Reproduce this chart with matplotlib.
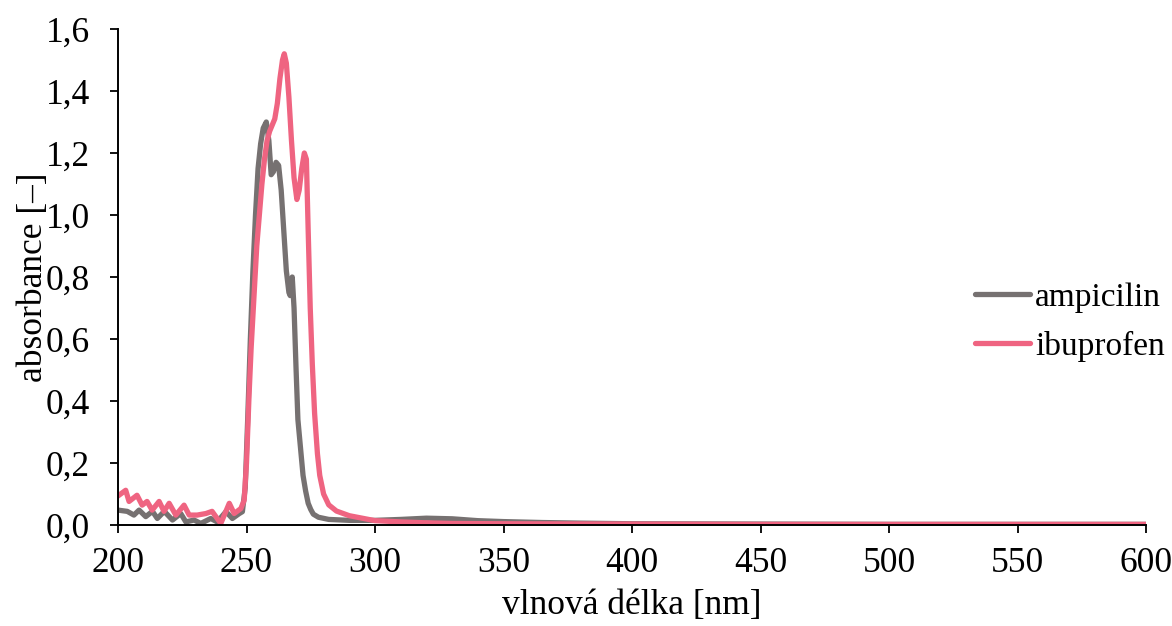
import matplotlib.pyplot as plt
import numpy as np

# Data (wavelength nm, absorbance)
amp_x = [200, 203.6, 206.2, 208.2, 210.8, 213.4, 215.3, 218, 221.2, 224.4, 226.4,
         229.6, 232.2, 236.1, 238.6, 242, 244.5, 247.2, 248.4, 249.5, 250.5, 251.5,
         252.5, 253.5, 254.5, 255.5, 256.5, 257.7, 258.7, 259.6, 260.5, 261.5, 262.5,
         263.5, 264.5, 265.5, 266.5, 267, 267.8, 268.5, 269.3, 270, 271, 272, 273,
         274, 275, 276, 278, 282, 290, 300, 310, 320, 330, 340, 350, 365, 380, 400,
         450, 500, 550, 600]
amp_y = [0.048, 0.044, 0.032, 0.048, 0.027, 0.044, 0.021, 0.044, 0.016, 0.037, 0.010,
         0.016, 0.005, 0.021, 0.010, 0.043, 0.021, 0.037, 0.043, 0.12, 0.35, 0.60,
         0.82, 1.00, 1.15, 1.23, 1.28, 1.30, 1.24, 1.13, 1.14, 1.17, 1.16,
         1.08, 0.95, 0.82, 0.75, 0.74, 0.80, 0.70, 0.50, 0.34, 0.25, 0.16, 0.11,
         0.07, 0.05, 0.035, 0.025, 0.018, 0.015, 0.015, 0.018, 0.022, 0.020, 0.014,
         0.011, 0.008, 0.006, 0.004, 0.003, 0.002, 0.002, 0.002]

ibu_x = [199.7, 203, 204.3, 207.4, 209.4, 211.3, 213.3, 216, 217.9, 219.9, 222.5,
         225.7, 227.7, 230.8, 234.2, 236.6, 240, 243.3, 245.2, 247.8, 249.1, 250,
         251, 251.8, 253, 254, 255, 256, 257, 258, 259, 260, 261, 262, 263, 264,
         264.7, 265.5, 266.5, 267.5, 268.5, 269.6, 270.5, 271.5, 272.5, 273.3, 274,
         274.8, 275.6, 276.5, 277.6, 278.5, 280, 282, 285, 290, 295, 300, 310, 320,
         330, 350, 400, 450, 500, 600]
ibu_y = [0.092, 0.112, 0.076, 0.096, 0.064, 0.076, 0.048, 0.076, 0.044, 0.070, 0.032,
         0.064, 0.032, 0.032, 0.037, 0.044, 0.005, 0.070, 0.037, 0.053, 0.08, 0.20,
         0.42, 0.57, 0.75, 0.90, 1.00, 1.10, 1.18, 1.24, 1.27, 1.29, 1.31, 1.36, 1.44, 1.50,
         1.52, 1.49, 1.38, 1.24, 1.12, 1.05, 1.08, 1.15, 1.20, 1.18, 0.95,
         0.70, 0.52, 0.36, 0.23, 0.16, 0.10, 0.065, 0.045, 0.030, 0.022, 0.014, 0.010, 0.007,
         0.005, 0.004, 0.003, 0.002, 0.002, 0.002]

x_ticks = [200, 250, 300, 350, 400, 450, 500, 550, 600]
y_ticks = [0.0, 0.2, 0.4, 0.6, 0.8, 1.0, 1.2, 1.4, 1.6]

plt.rcParams['font.family'] = ['Liberation Serif', 'DejaVu Serif']
fs = 25.5

fig = plt.figure(figsize=(11.72, 6.26), dpi=100)
ax = fig.add_axes([118/1172, 1 - 525/626, (1146 - 118)/1172, (525 - 29)/626])

ax.plot(amp_x, amp_y, color='#767171', lw=3.8, solid_joinstyle='round',
        solid_capstyle='round', label='ampicilin')
ax.plot(ibu_x, ibu_y, color='#EF6481', lw=3.8, solid_joinstyle='round',
        solid_capstyle='round', label='ibuprofen')

ax.set_xlim(200, 600)
ax.set_ylim(0, 1.6)
ax.set_xticks(x_ticks)
ax.set_yticks(y_ticks)
ax.set_yticklabels([f"{v:.1f}".replace('.', ',') for v in y_ticks])
ax.tick_params(labelsize=fs, direction='out', length=6, width=1.3, color='black')
ax.tick_params(axis='x', pad=10)
ax.tick_params(axis='y', pad=14)

for s in ['top', 'right']:
    ax.spines[s].set_visible(False)
for s in ['left', 'bottom']:
    ax.spines[s].set_linewidth(1.4)
    ax.spines[s].set_color('black')

ax.set_xlabel('vlnová délka [nm]', fontsize=fs, labelpad=6)
ax.set_ylabel('absorbance [–]', fontsize=fs, labelpad=-3)

leg = ax.legend(loc='center left', bbox_to_anchor=(975/1172, 1 - 322/626),
                bbox_transform=fig.transFigure, frameon=False, fontsize=24,
                handlelength=1.65, handletextpad=0.15, labelspacing=0.55,
                borderpad=0, borderaxespad=0)

fig.savefig('out.png', dpi=100)
